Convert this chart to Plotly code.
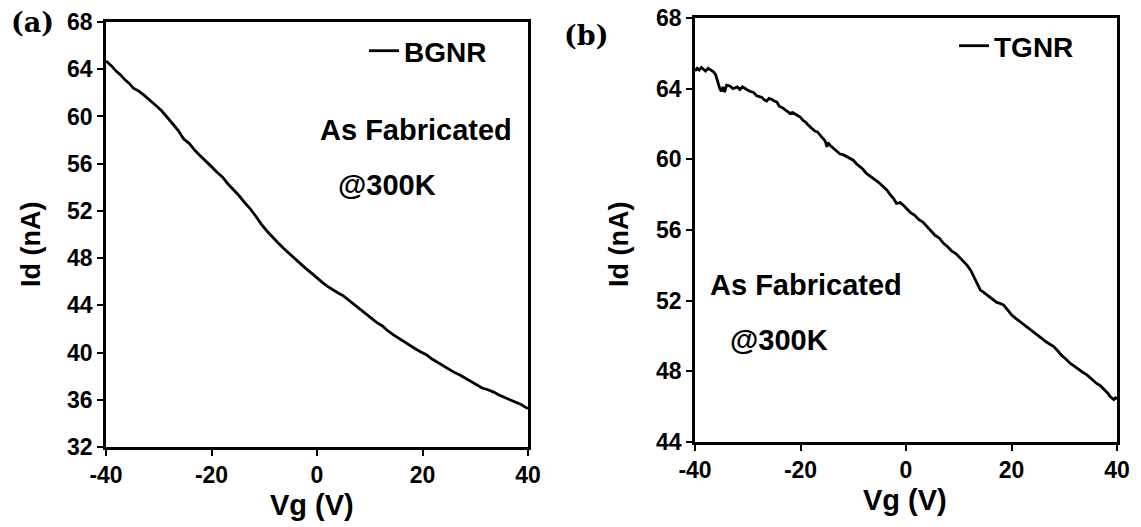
import plotly.graph_objects as go

# ---------------- data ----------------
vg_bgnr = [-40, -39, -38, -37.2, -36.4, -35.6, -34.8, -33.8, -32.8, -31.7, -30.6, -29.5, -28.5,
           -27.4, -26.3, -25.3, -24.2, -23.2, -22.2, -21.1, -20.0, -19.0, -17.9, -16.9, -15.8,
           -14.8, -13.7, -12.7, -11.6, -10.6, -9.5, -8.5, -7.4, -6.4, -5.3, -4.3, -3.2, -2.2,
           -1.1, 0.0, 1.0, 2.0, 3.0, 4.0, 5.0, 6.1, 7.1, 8.2, 9.2, 10.3, 11.3, 12.4, 13.4, 14.5,
           15.5, 16.6, 17.6, 18.7, 19.7, 20.8, 21.8, 22.9, 24.0, 25.0, 26.1, 27.1, 28.2, 29.2,
           30.3, 31.3, 32.4, 33.5, 34.5, 35.6, 36.6, 37.7, 38.7, 39.4, 40.0]
id_bgnr = [64.7, 64.3, 63.8, 63.5, 63.1, 62.8, 62.4, 62.15, 61.8, 61.4, 60.95, 60.5, 60.0,
           59.4, 58.8, 58.1, 57.7, 57.15, 56.7, 56.25, 55.75, 55.3, 54.85, 54.3, 53.8,
           53.3, 52.7, 52.2, 51.55, 50.9, 50.3, 49.8, 49.3, 48.85, 48.4, 47.95, 47.55, 47.15,
           46.75, 46.3, 45.95, 45.6, 45.3, 45.05, 44.8, 44.4, 44.05, 43.7, 43.3, 42.9, 42.55,
           42.25, 41.85, 41.5, 41.2, 40.9, 40.6, 40.3, 40.05, 39.8, 39.45, 39.15, 38.8, 38.6,
           38.3, 38.1, 37.8, 37.5, 37.2, 37.0, 36.85, 36.65, 36.4, 36.2, 35.95, 35.75, 35.6,
           35.4, 35.25]

vg_tgnr = [-40, -39.6, -39.2, -38.8, -38.4, -38.0, -37.5, -37.0, -36.5, -36.1, -35.8, -35.5,
           -35.3, -35.0, -34.7, -34.4, -34.0, -33.4, -32.8, -32.0, -31.5, -31.0, -30.6, -30.2,
           -29.6, -29.0, -28.6, -28.3, -27.8, -27.3, -26.8, -26.4, -26.0, -25.5, -25.0, -24.5,
           -24.0, -23.3, -22.7, -22.0, -21.5, -21.0, -20.5, -20.1, -19.5, -19.0, -18.6, -18.2,
           -17.7, -17.3, -16.8, -16.3, -15.8, -15.5, -15.2, -15.0, -14.8, -14.4, -14.0, -13.3,
           -12.5, -11.8, -11.0, -10.5, -10.0, -9.4, -8.8, -8.2, -7.5, -6.8, -6.0, -5.2, -4.3,
           -3.6, -3.0, -2.4, -1.8, -1.1, -0.5, 0.2, 0.8, 1.6, 2.4, 3.2, 4.0, 4.8, 5.5, 6.3, 7.1,
           7.9, 8.7, 9.5, 10.3, 11.0, 11.6, 12.3, 12.9, 13.5, 14.1, 14.6, 15.0, 15.5, 16.0,
           16.6, 17.2, 17.8, 18.5, 19.2, 20.0, 20.8, 21.7, 22.5, 23.3, 24.0, 24.8, 25.6, 26.4,
           27.2, 28.0, 28.8, 29.5, 30.3, 31.1, 31.9, 32.7, 33.5, 34.3, 35.0, 35.5, 36.2, 36.8,
           37.3, 37.8, 38.3, 38.7, 39.1, 39.4, 39.7, 40.0]
id_tgnr = [65.0, 65.15, 65.05, 65.2, 65.1, 65.0, 65.15, 65.05, 64.95, 64.8, 64.5, 64.3,
           64.0, 63.85, 64.1, 63.8, 64.2, 64.15, 64.0, 64.1, 63.95, 64.1, 64.0, 63.95,
           63.85, 63.8, 63.7, 63.6, 63.55, 63.5, 63.35, 63.3, 63.45, 63.4, 63.3, 63.25,
           63.0, 62.9, 62.75, 62.6, 62.65, 62.55, 62.5, 62.4, 62.2, 62.1, 61.95, 61.85,
           61.7, 61.6, 61.55, 61.4, 61.2, 61.1, 60.95, 60.7, 60.95, 60.8, 60.7, 60.5,
           60.3, 60.25, 60.1, 60.05, 59.95, 59.75, 59.6, 59.45, 59.2, 59.05, 58.85, 58.7, 58.45,
           58.25, 58.0, 57.8, 57.5, 57.55, 57.4, 57.2, 57.0, 56.85, 56.6, 56.45, 56.2, 55.95,
           55.7, 55.55, 55.25, 55.05, 54.8, 54.65, 54.4, 54.2, 54.0, 53.7, 53.3, 52.95, 52.6,
           52.5, 52.4, 52.3, 52.2, 52.05, 51.9, 51.85, 51.75, 51.5, 51.2, 51.0, 50.8, 50.6,
           50.4, 50.25, 50.06, 49.9, 49.7, 49.55, 49.4, 49.15, 48.9, 48.7, 48.46, 48.3, 48.1,
           47.95, 47.8, 47.6, 47.5, 47.3, 47.2, 47.05, 46.9, 46.75, 46.57, 46.45, 46.4, 46.5,
           46.45]

x_ticks = [-40, -20, 0, 20, 40]
x_tick_labels = ["-40", "-20", "0", "20", "40"]
y_ticks_a = [32, 36, 40, 44, 48, 52, 56, 60, 64, 68]
y_ticks_b = [44, 48, 52, 56, 60, 64, 68]

W, H = 1141, 527
SANS = "Liberation Sans, Arial, sans-serif"


def px(x):
    return x / W


def py(y):
    return 1 - y / H


fig = go.Figure()
fig.add_trace(go.Scatter(x=vg_bgnr, y=id_bgnr, mode="lines", name="BGNR",
                         line=dict(color="black", width=2.8), xaxis="x", yaxis="y",
                         legend="legend"))
fig.add_trace(go.Scatter(x=vg_tgnr, y=id_tgnr, mode="lines", name="TGNR",
                         line=dict(color="black", width=2.8), xaxis="x2", yaxis="y2",
                         legend="legend2"))

axis_common = dict(showline=True, linecolor="black", linewidth=2.5, mirror=True,
                   ticks="outside", ticklen=6, tickwidth=2.2, tickcolor="black",
                   showgrid=False, zeroline=False, automargin=False,
                   tickfont=dict(family=SANS, size=23, color="black", weight="bold"))

fig.update_layout(
    width=W, height=H,
    margin=dict(l=0, r=0, t=0, b=0, autoexpand=False),
    paper_bgcolor="white", plot_bgcolor="white",
    showlegend=True,
    xaxis=dict(domain=[px(106), px(528)], range=[-40, 40], tickvals=x_ticks,
               ticktext=x_tick_labels, anchor="y", **axis_common),
    yaxis=dict(domain=[py(447), py(22)], range=[32, 68], tickvals=y_ticks_a,
               anchor="x", **axis_common),
    xaxis2=dict(domain=[px(695), px(1117)], range=[-40, 40], tickvals=x_ticks,
                ticktext=x_tick_labels, anchor="y2", **axis_common),
    yaxis2=dict(domain=[py(442), py(18)], range=[44, 68], tickvals=y_ticks_b,
                anchor="x2", **axis_common),
    legend=dict(x=px(364), y=py(51), xanchor="left", yanchor="middle",
                bgcolor="rgba(0,0,0,0)", borderwidth=0,
                font=dict(family=SANS, size=28, color="black", weight="bold")),
    legend2=dict(x=px(954), y=py(46), xanchor="left", yanchor="middle",
                 bgcolor="rgba(0,0,0,0)", borderwidth=0,
                 font=dict(family=SANS, size=28, color="black", weight="bold")),
)

bold = dict(family=SANS, color="black", weight="bold")
annots = [
    # panel labels
    dict(text="(a)", x=px(32), y=py(22), font=dict(family="DejaVu Serif, serif", size=27,
                                                   color="black", weight="bold")),
    dict(text="(b)", x=px(586), y=py(35), font=dict(family="DejaVu Serif, serif", size=27,
                                                    color="black", weight="bold")),
    # axis titles
    dict(text="Vg (V)", x=px(312), y=py(505), font=dict(size=29, **bold)),
    dict(text="Vg (V)", x=px(905), y=py(500), font=dict(size=29, **bold)),
    dict(text="Id (nA)", x=px(31), y=py(245), textangle=-90, font=dict(size=27, **bold)),
    dict(text="Id (nA)", x=px(619), y=py(245), textangle=-90, font=dict(size=27, **bold)),
    # in-plot notes
    dict(text="As Fabricated", x=px(416), y=py(130), font=dict(size=29, **bold)),
    dict(text="@300K", x=px(387), y=py(185), font=dict(size=29, **bold)),
    dict(text="As Fabricated", x=px(806), y=py(285), font=dict(size=29, **bold)),
    dict(text="@300K", x=px(779), y=py(340), font=dict(size=29, **bold)),
]
for a in annots:
    a.update(xref="paper", yref="paper", showarrow=False, xanchor="center", yanchor="middle")
    fig.add_annotation(**a)

fig.write_html("out.html", config={"displayModeBar": False},
               post_script="document.body.style.margin='0';")
